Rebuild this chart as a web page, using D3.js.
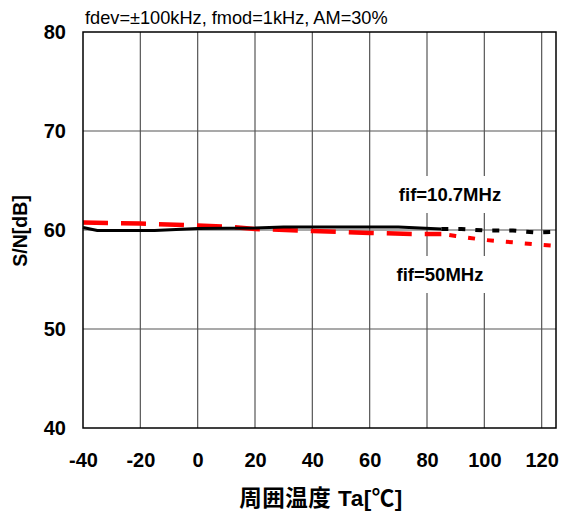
<!DOCTYPE html>
<html>
<head>
<meta charset="utf-8">
<script src="https://cdn.jsdelivr.net/npm/d3@7"></script>
<style>
  html, body { margin: 0; padding: 0; background: #fff; }
  svg { display: block; }
  .lat { font-family: "Liberation Sans", Arial, sans-serif; }
  .cjk { font-family: "Liberation Sans", "Noto Sans CJK JP", sans-serif; }
</style>
</head>
<body>
<svg id="chart" width="561" height="513"></svg>
<script>
// S/N versus ambient temperature, two IF frequencies
const xTicks = [-40, -20, 0, 20, 40, 60, 80, 100, 120];
const yTicks = [40, 50, 60, 70, 80];

// fif = 10.7 MHz: measured range (solid) and extended range (dotted)
const temp107 = [-40, -35, -15, 0, 20, 30, 70, 85];
const sn107   = [60.25, 59.95, 59.95, 60.15, 60.2, 60.3, 60.3, 60.1];
const temp107Ext = [85, 92, 100, 110, 118, 125];
const sn107Ext   = [60.1, 60.1, 59.95, 59.95, 59.75, 59.8];

// fif = 50 MHz: measured range (dashed) and extended range (dotted)
const temp50 = [-40, -20, 0, 10, 20, 40, 60, 75, 85];
const sn50   = [60.75, 60.65, 60.45, 60.35, 60.1, 59.9, 59.7, 59.6, 59.6];
const temp50Ext = [85, 90, 95, 100, 110, 120, 125];
const sn50Ext   = [59.6, 59.4, 59.2, 59.0, 58.75, 58.5, 58.4];

const titleText = "fdev=±100kHz, fmod=1kHz, AM=30%";
const xLabel = "周囲温度 Ta[℃]";
const yLabel = "S/N[dB]";
const label107 = "fif=10.7MHz";
const label50 = "fif=50MHz";

const svg = d3.select("#chart");
const L = 83, R = 556, T = 32, B = 428;

const x = d3.scaleLinear().domain([-40, 125]).range([L, R]);
const y = d3.scaleLinear().domain([40, 80]).range([B, T]);

// grid
const grid = svg.append("g");
grid.selectAll("line.v").data(xTicks.slice(1)).join("line")
  .attr("x1", d => x(d)).attr("x2", d => x(d))
  .attr("y1", T).attr("y2", B)
  .attr("stroke", "#555").attr("stroke-width", 1.2);
grid.selectAll("line.h").data(yTicks.slice(1, -1)).join("line")
  .attr("x1", L).attr("x2", R)
  .attr("y1", d => y(d)).attr("y2", d => y(d))
  .attr("stroke", "#555").attr("stroke-width", 1.2);

// series label with a white box that hides the grid behind it
const labels = svg.append("g");
function labelBox(txt, cx, base, top, bottom) {
  const g = labels.append("g");
  const box = g.append("rect").attr("fill", "#fff");
  const t = g.append("text").attr("class", "lat")
    .attr("x", cx).attr("y", base)
    .attr("text-anchor", "middle")
    .attr("font-size", 18.5).attr("font-weight", "bold")
    .attr("fill", "#000").text(txt);
  const bb = t.node().getBBox();
  box.attr("x", bb.x - 8).attr("width", bb.width + 16)
    .attr("y", top).attr("height", bottom - top);
}

// axes
const fmt = d => String(d);
const xAxis = d3.axisBottom(x).tickValues(xTicks).tickFormat(fmt).tickSize(0).tickPadding(25);
const gx = svg.append("g").attr("transform", `translate(0,${B})`).call(xAxis);
gx.select(".domain").remove();
gx.selectAll("text").attr("class", "lat").attr("font-size", 20).attr("font-weight", "bold")
  .attr("fill", "#000").attr("font-family", "Liberation Sans, Arial, sans-serif");

const yAxis = d3.axisLeft(y).tickValues(yTicks).tickFormat(fmt).tickSize(0).tickPadding(17);
const gy = svg.append("g").attr("transform", `translate(${L},0)`).call(yAxis);
gy.select(".domain").remove();
gy.selectAll("text").attr("class", "lat").attr("font-size", 20).attr("font-weight", "bold")
  .attr("fill", "#000").attr("font-family", "Liberation Sans, Arial, sans-serif");

// series
const line = (xs, ys) => d3.line().x((d, i) => x(xs[i])).y((d, i) => y(ys[i]))(ys);
const plot = svg.append("g");
plot.append("path").attr("d", line(temp50, sn50))
  .attr("fill", "none").attr("stroke", "#ff0000").attr("stroke-width", 4.5)
  .attr("stroke-dasharray", "25,13");
plot.append("path").attr("d", line(temp50Ext, sn50Ext))
  .attr("fill", "none").attr("stroke", "#ff0000").attr("stroke-width", 4)
  .attr("stroke-dasharray", "7,12").attr("stroke-dashoffset", -8);
plot.append("path").attr("d", line(temp107, sn107))
  .attr("fill", "none").attr("stroke", "#000").attr("stroke-width", 3)
  .attr("stroke-linejoin", "round");
plot.append("path").attr("d", line(temp107Ext, sn107Ext))
  .attr("fill", "none").attr("stroke", "#000").attr("stroke-width", 4)
  .attr("stroke-dasharray", "7,10");

labelBox(label107, 450, 201, 176, 213);
labelBox(label50, 440, 281, 256, 293);

// frame
svg.append("rect").attr("x", L).attr("y", T).attr("width", R - L).attr("height", B - T)
  .attr("fill", "none").attr("stroke", "#000").attr("stroke-width", 1.5);

// titles
svg.append("text").attr("class", "lat")
  .attr("x", 85).attr("y", 24).attr("font-size", 18.2).attr("fill", "#000")
  .text(titleText);
svg.append("text").attr("class", "cjk")
  .attr("x", 321).attr("y", 506).attr("text-anchor", "middle")
  .attr("font-size", 22.5).attr("font-weight", "bold").attr("fill", "#000")
  .attr("letter-spacing", 0.5)
  .text(xLabel);
svg.append("text").attr("class", "lat")
  .attr("transform", "translate(27,231) rotate(-90)")
  .attr("text-anchor", "middle")
  .attr("font-size", 19.5).attr("font-weight", "bold").attr("fill", "#000")
  .text(yLabel);
</script>
</body>
</html>
